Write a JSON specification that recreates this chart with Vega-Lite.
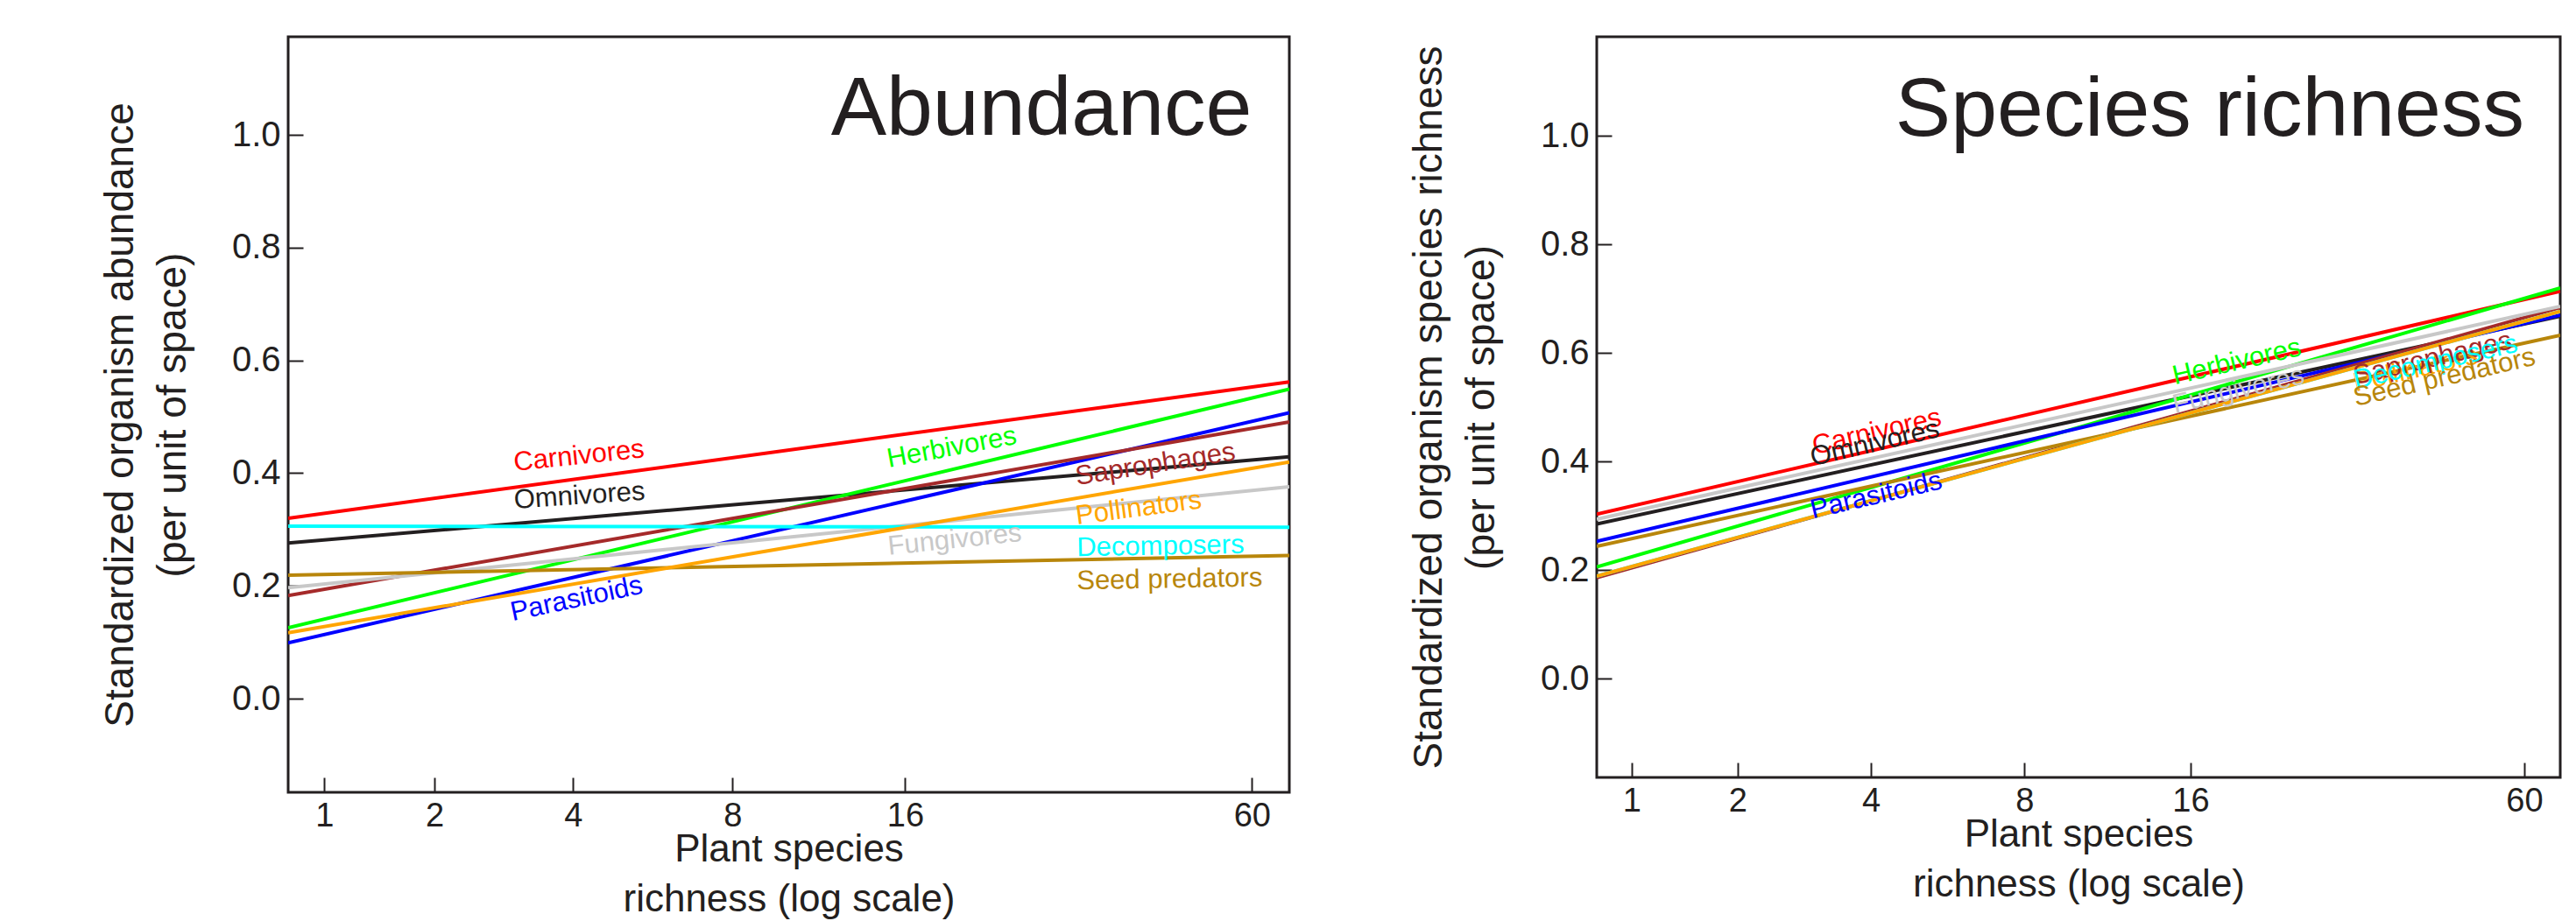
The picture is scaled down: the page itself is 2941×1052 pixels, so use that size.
{
  "$schema": "https://vega.github.io/schema/vega-lite/v6.json",
  "background": "white",
  "padding": {"left": 112, "top": 40, "right": 5, "bottom": 5},
  "spacing": 132,
  "config": {
    "view": {"stroke": "#231f20", "strokeWidth": 3},
    "axis": {
      "domain": false, "grid": false, "ticks": true, "tickSize": -17, "tickWidth": 2,
      "tickColor": "#231f20", "labelFont": "Liberation Sans", "labelColor": "#231f20",
      "titleFont": "Liberation Sans", "titleColor": "#231f20", "titleFontWeight": "normal"
    },
    "axisX": {"labelFontSize": 38, "labelPadding": 25, "titleFontSize": 44, "titleLineHeight": 57, "titlePadding": -3},
    "axisY": {"labelFontSize": 40, "labelPadding": 26, "titleFontSize": 46, "titleLineHeight": 60, "titlePadding": 43}
  },
  "datasets": {
    "lines": [
      {"panel": "A", "group": "Carnivores", "x": 0.75, "y": 0.320}, {"panel": "A", "group": "Carnivores", "x": 69, "y": 0.562},
      {"panel": "A", "group": "Omnivores", "x": 0.75, "y": 0.276}, {"panel": "A", "group": "Omnivores", "x": 69, "y": 0.429},
      {"panel": "A", "group": "Herbivores", "x": 0.75, "y": 0.126}, {"panel": "A", "group": "Herbivores", "x": 69, "y": 0.549},
      {"panel": "A", "group": "Parasitoids", "x": 0.75, "y": 0.099}, {"panel": "A", "group": "Parasitoids", "x": 69, "y": 0.507},
      {"panel": "A", "group": "Saprophages", "x": 0.75, "y": 0.183}, {"panel": "A", "group": "Saprophages", "x": 69, "y": 0.491},
      {"panel": "A", "group": "Fungivores", "x": 0.75, "y": 0.197}, {"panel": "A", "group": "Fungivores", "x": 69, "y": 0.376},
      {"panel": "A", "group": "Seed predators", "x": 0.75, "y": 0.219}, {"panel": "A", "group": "Seed predators", "x": 69, "y": 0.254},
      {"panel": "A", "group": "Decomposers", "x": 0.75, "y": 0.306}, {"panel": "A", "group": "Decomposers", "x": 69, "y": 0.304},
      {"panel": "A", "group": "Pollinators", "x": 0.75, "y": 0.117}, {"panel": "A", "group": "Pollinators", "x": 69, "y": 0.420},
      {"panel": "S", "group": "Carnivores", "x": 0.75, "y": 0.303}, {"panel": "S", "group": "Carnivores", "x": 69, "y": 0.714},
      {"panel": "S", "group": "Omnivores", "x": 0.75, "y": 0.285}, {"panel": "S", "group": "Omnivores", "x": 69, "y": 0.668},
      {"panel": "S", "group": "Herbivores", "x": 0.75, "y": 0.206}, {"panel": "S", "group": "Herbivores", "x": 69, "y": 0.720},
      {"panel": "S", "group": "Parasitoids", "x": 0.75, "y": 0.253}, {"panel": "S", "group": "Parasitoids", "x": 69, "y": 0.670},
      {"panel": "S", "group": "Saprophages", "x": 0.75, "y": 0.186}, {"panel": "S", "group": "Saprophages", "x": 69, "y": 0.684},
      {"panel": "S", "group": "Fungivores", "x": 0.75, "y": 0.294}, {"panel": "S", "group": "Fungivores", "x": 69, "y": 0.686},
      {"panel": "S", "group": "Seed predators", "x": 0.75, "y": 0.244}, {"panel": "S", "group": "Seed predators", "x": 69, "y": 0.633},
      {"panel": "S", "group": "Decomposers", "x": 0.75, "y": 0.189}, {"panel": "S", "group": "Decomposers", "x": 69, "y": 0.677},
      {"panel": "S", "group": "Pollinators", "x": 0.75, "y": 0.189}, {"panel": "S", "group": "Pollinators", "x": 69, "y": 0.677}
    ],
    "labels": [
      {"panel": "A", "group": "Carnivores", "x": 3.03, "y": 0.404},
      {"panel": "A", "group": "Omnivores", "x": 3.03, "y": 0.337},
      {"panel": "A", "group": "Parasitoids", "x": 3.0, "y": 0.138},
      {"panel": "A", "group": "Herbivores", "x": 15.0, "y": 0.410},
      {"panel": "A", "group": "Fungivores", "x": 15.0, "y": 0.255},
      {"panel": "A", "group": "Saprophages", "x": 31.0, "y": 0.379},
      {"panel": "A", "group": "Pollinators", "x": 31.0, "y": 0.309},
      {"panel": "A", "group": "Decomposers", "x": 31.0, "y": 0.253},
      {"panel": "A", "group": "Seed predators", "x": 31.0, "y": 0.194},
      {"panel": "S", "group": "Carnivores", "x": 3.03, "y": 0.413},
      {"panel": "S", "group": "Omnivores", "x": 3.0, "y": 0.392},
      {"panel": "S", "group": "Parasitoids", "x": 3.0, "y": 0.295},
      {"panel": "S", "group": "Herbivores", "x": 15.0, "y": 0.542},
      {"panel": "S", "group": "Fungivores", "x": 15.0, "y": 0.489},
      {"panel": "S", "group": "Pollinators", "x": 31.0, "y": 0.529},
      {"panel": "S", "group": "Saprophages", "x": 31.0, "y": 0.542},
      {"panel": "S", "group": "Decomposers", "x": 31.0, "y": 0.534},
      {"panel": "S", "group": "Seed predators", "x": 31.0, "y": 0.502}
    ]
  },
  "hconcat": [
    {
      "width": 1143,
      "height": 863,
      "layer": [
        {
          "data": {"name": "lines"},
          "transform": [{"filter": {"field": "panel", "equal": "A"}}],
          "mark": {"type": "line", "strokeWidth": 4, "clip": true},
          "encoding": {
            "x": {"field": "x", "type": "quantitative",
                  "scale": {"type": "symlog", "constant": 1, "domain": [0.75, 69], "nice": false, "zero": false},
                  "axis": {"values": [1, 2, 4, 8, 16, 60], "format": "d", "title": ["Plant species", "richness (log scale)"]}},
            "y": {"field": "y", "type": "quantitative",
                  "scale": {"domain": [-0.166, 1.174], "nice": false, "zero": false},
                  "axis": {"values": [0, 0.2, 0.4, 0.6, 0.8, 1.0], "format": ".1f", "title": ["Standardized organism abundance", "(per unit of space)"]}},
            "color": {"field": "group", "type": "nominal",
                      "scale": {"domain": ["Carnivores", "Omnivores", "Herbivores", "Parasitoids", "Saprophages", "Fungivores", "Seed predators", "Decomposers", "Pollinators"],
                                "range": ["#ff0000", "#231f20", "#00ff00", "#0000ff", "#a52a2a", "#c8c8c8", "#b8860b", "#00ffff", "#ffa500"]},
                      "legend": null}
          }
        },
        {
          "data": {"name": "labels"},
          "transform": [{"filter": {"field": "panel", "equal": "A"}}, {"filter": {"field": "group", "oneOf": ["Carnivores", "Fungivores"]}}],
          "mark": {"type": "text", "align": "left", "baseline": "alphabetic", "font": "Liberation Sans", "fontSize": 31, "angle": 354},
          "encoding": {"x": {"field": "x", "type": "quantitative"}, "y": {"field": "y", "type": "quantitative"}, "text": {"field": "group"}, "color": {"field": "group", "type": "nominal", "legend": null}}
        },
        {
          "data": {"name": "labels"},
          "transform": [{"filter": {"field": "panel", "equal": "A"}}, {"filter": {"field": "group", "oneOf": ["Omnivores"]}}],
          "mark": {"type": "text", "align": "left", "baseline": "alphabetic", "font": "Liberation Sans", "fontSize": 31, "angle": 356},
          "encoding": {"x": {"field": "x", "type": "quantitative"}, "y": {"field": "y", "type": "quantitative"}, "text": {"field": "group"}, "color": {"field": "group", "type": "nominal", "legend": null}}
        },
        {
          "data": {"name": "labels"},
          "transform": [{"filter": {"field": "panel", "equal": "A"}}, {"filter": {"field": "group", "oneOf": ["Parasitoids"]}}],
          "mark": {"type": "text", "align": "left", "baseline": "alphabetic", "font": "Liberation Sans", "fontSize": 31, "angle": 348},
          "encoding": {"x": {"field": "x", "type": "quantitative"}, "y": {"field": "y", "type": "quantitative"}, "text": {"field": "group"}, "color": {"field": "group", "type": "nominal", "legend": null}}
        },
        {
          "data": {"name": "labels"},
          "transform": [{"filter": {"field": "panel", "equal": "A"}}, {"filter": {"field": "group", "oneOf": ["Herbivores"]}}],
          "mark": {"type": "text", "align": "left", "baseline": "alphabetic", "font": "Liberation Sans", "fontSize": 31, "angle": 349.5},
          "encoding": {"x": {"field": "x", "type": "quantitative"}, "y": {"field": "y", "type": "quantitative"}, "text": {"field": "group"}, "color": {"field": "group", "type": "nominal", "legend": null}}
        },
        {
          "data": {"name": "labels"},
          "transform": [{"filter": {"field": "panel", "equal": "A"}}, {"filter": {"field": "group", "oneOf": ["Saprophages"]}}],
          "mark": {"type": "text", "align": "left", "baseline": "alphabetic", "font": "Liberation Sans", "fontSize": 31, "angle": 351},
          "encoding": {"x": {"field": "x", "type": "quantitative"}, "y": {"field": "y", "type": "quantitative"}, "text": {"field": "group"}, "color": {"field": "group", "type": "nominal", "legend": null}}
        },
        {
          "data": {"name": "labels"},
          "transform": [{"filter": {"field": "panel", "equal": "A"}}, {"filter": {"field": "group", "oneOf": ["Pollinators"]}}],
          "mark": {"type": "text", "align": "left", "baseline": "alphabetic", "font": "Liberation Sans", "fontSize": 31, "angle": 352.5},
          "encoding": {"x": {"field": "x", "type": "quantitative"}, "y": {"field": "y", "type": "quantitative"}, "text": {"field": "group"}, "color": {"field": "group", "type": "nominal", "legend": null}}
        },
        {
          "data": {"name": "labels"},
          "transform": [{"filter": {"field": "panel", "equal": "A"}}, {"filter": {"field": "group", "oneOf": ["Decomposers", "Seed predators"]}}],
          "mark": {"type": "text", "align": "left", "baseline": "alphabetic", "font": "Liberation Sans", "fontSize": 31, "angle": 359},
          "encoding": {"x": {"field": "x", "type": "quantitative"}, "y": {"field": "y", "type": "quantitative"}, "text": {"field": "group"}, "color": {"field": "group", "type": "nominal", "legend": null}}
        },
        {
          "data": {"values": [{"title": "Abundance", "x": 60, "y": 1.0}]},
          "mark": {"type": "text", "align": "right", "baseline": "alphabetic", "font": "Liberation Sans", "fontSize": 95, "color": "#231f20"},
          "encoding": {"x": {"field": "x", "type": "quantitative"}, "y": {"field": "y", "type": "quantitative"}, "text": {"field": "title"}}
        }
      ]
    },
    {
      "width": 1100,
      "height": 846,
      "layer": [
        {
          "data": {"name": "lines"},
          "transform": [{"filter": {"field": "panel", "equal": "S"}}],
          "mark": {"type": "line", "strokeWidth": 4, "clip": true},
          "encoding": {
            "x": {"field": "x", "type": "quantitative",
                  "scale": {"type": "symlog", "constant": 1, "domain": [0.75, 69], "nice": false, "zero": false},
                  "axis": {"values": [1, 2, 4, 8, 16, 60], "format": "d", "title": ["Plant species", "richness (log scale)"]}},
            "y": {"field": "y", "type": "quantitative",
                  "scale": {"domain": [-0.182, 1.183], "nice": false, "zero": false},
                  "axis": {"values": [0, 0.2, 0.4, 0.6, 0.8, 1.0], "format": ".1f", "title": ["Standardized organism species richness", "(per unit of space)"]}},
            "color": {"field": "group", "type": "nominal", "legend": null}
          }
        },
        {
          "data": {"name": "labels"},
          "transform": [{"filter": {"field": "panel", "equal": "S"}}],
          "mark": {"type": "text", "align": "left", "baseline": "alphabetic", "font": "Liberation Sans", "fontSize": 31, "angle": 347},
          "encoding": {"x": {"field": "x", "type": "quantitative"}, "y": {"field": "y", "type": "quantitative"}, "text": {"field": "group"}, "color": {"field": "group", "type": "nominal", "legend": null}}
        },
        {
          "data": {"values": [{"title": "Species richness", "x": 60, "y": 1.0}]},
          "mark": {"type": "text", "align": "right", "baseline": "alphabetic", "font": "Liberation Sans", "fontSize": 95, "color": "#231f20"},
          "encoding": {"x": {"field": "x", "type": "quantitative"}, "y": {"field": "y", "type": "quantitative"}, "text": {"field": "title"}}
        }
      ]
    }
  ]
}
